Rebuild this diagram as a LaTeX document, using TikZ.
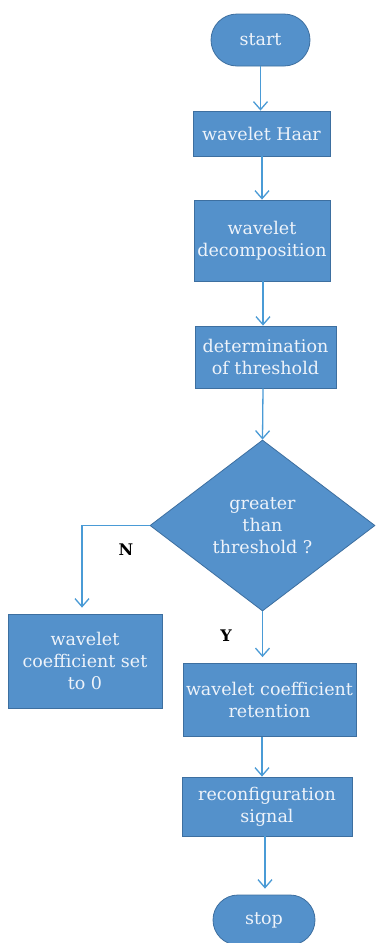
\documentclass[tikz,border=0pt]{standalone}
\usepackage{fontspec}
\setmainfont{DejaVu Serif}
\usetikzlibrary{shapes.geometric,shapes.misc,arrows.meta}
\definecolor{boxfill}{HTML}{5491CB}
\definecolor{boxline}{HTML}{3D6FA0}
\definecolor{arrowc}{HTML}{4A9BD6}
\definecolor{txtc}{HTML}{EEF3FA}
\tikzset{
  box/.style={draw=boxline, line width=0.8pt, fill=boxfill, text=txtc, align=center,
    font=\fontsize{17.5}{22}\selectfont, inner sep=0pt},
  term/.style={box, rounded rectangle, minimum width=99pt, minimum height=52pt},
  dec/.style={box, diamond, minimum width=225pt, minimum height=171pt},
  flow/.style={draw=arrowc, line width=1.3pt, -{Straight Barb[length=8pt,width=14pt,line width=1.3pt]}},
  lab/.style={font=\fontsize{16}{18}\selectfont\bfseries, text=black}
}
\begin{document}
\begin{tikzpicture}[x=1pt,y=-1pt]
\useasboundingbox (0,0) rectangle (376,943);
\fill[white] (0,0) rectangle (376,943);
\node[term] (start) at (260.5,40) {start};
\node[box, minimum width=137pt, minimum height=45pt] (haar) at (261.5,133.5) {wavelet Haar};
\node[box, minimum width=136pt, minimum height=81pt] (decomp) at (262,240.5) {wavelet\\decomposition};
\node[box, minimum width=141pt, minimum height=62pt] (thr) at (265.5,357) {determination\\of threshold};
\node[dec] (dia) at (262.5,525.5) {greater\\than\\threshold ?};
\node[box, minimum width=154pt, minimum height=94pt] (zero) at (85,661) {wavelet\\coefficient set\\to 0};
\node[box, minimum width=173pt, minimum height=73pt] (ret) at (269.5,700) {wavelet coefficient\\retention};
\node[box, minimum width=170pt, minimum height=59pt] (rec) at (267,806.5) {reconfiguration\\signal};
\node[term, minimum width=102pt, minimum height=50pt] (stop) at (264,920) {stop};
\coordinate (nturn) at (82,525.5);
\node[lab] (nl) at (126,550) {N};
\node[lab] (yl) at (226,636) {Y};

\draw[flow] (start.south) -- (start.south |- haar.north);
\draw[flow] ([xshift=0.5pt]haar.south) -- ([xshift=0.5pt]haar.south |- decomp.north);
\draw[flow] ([xshift=1pt]decomp.south) -- ([xshift=1pt]decomp.south |- thr.north);
\draw[flow] ([xshift=-2.5pt]thr.south) -- (dia.north);
\draw[flow, shorten >=6pt] (dia.west) -- (nturn) -- (nturn |- zero.north);
\draw[flow, shorten >=6pt] (dia.south) -- (dia.south |- ret.north);
\draw[flow] ([xshift=-7.5pt]ret.south) -- ([xshift=-7.5pt]ret.south |- rec.north);
\draw[flow, shorten >=6pt] ([xshift=-2pt]rec.south) -- ([xshift=-2pt]rec.south |- stop.north);
\end{tikzpicture}
\end{document}
